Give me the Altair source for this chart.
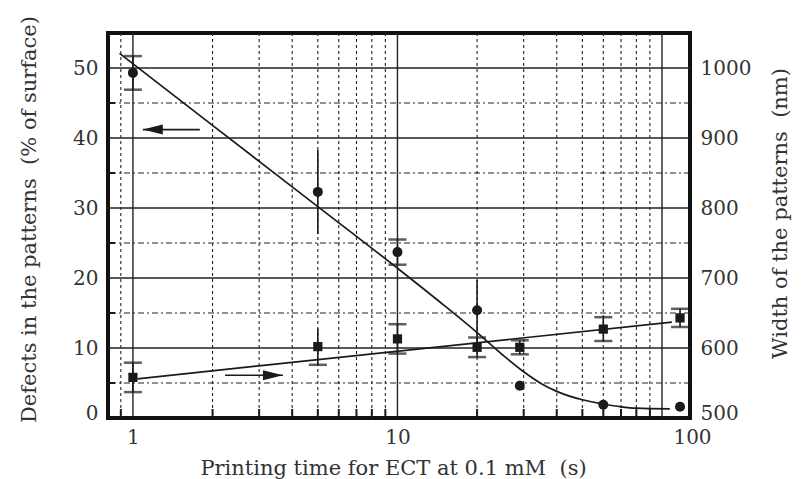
import altair as alt
import pandas as pd

# ---- data ----
time_pts = [1, 5, 10, 20, 29, 60, 117]
defects = [49.3, 32.3, 23.7, 15.4, 4.6, 1.9, 1.6]
defects_err = [2.4, 6.0, 1.8, 4.3, 0, 0, 0]
defects_caps = [1, 0, 1, 0, 0, 0, 0]

width_nm = [558, 602, 613, 601, 601, 627, 643]
width_err = [21, 26, 21, 14, 10, 17, 13]
width_topcap = [1, 0, 1, 1, 1, 1, 1]

fit_def_x = [0.89, 2, 5, 10, 15, 20, 25, 30, 35, 40, 50, 60, 70, 80, 107]
fit_def_y = [52.1, 41.8, 30.2, 21.4, 16.1, 12.2, 9.0, 6.6, 4.9, 3.8, 2.6, 2.0, 1.6, 1.4, 1.3]

fit_w_x = [1.04, 109]
fit_w_y = [556, 637]

arrow_left = {"x1": 1.09, "x2": 1.79, "y": 41.2}
arrow_right = {"x1": 2.23, "x2": 3.69, "y": 6.1}

major_x = [1, 10, 100]
minor_x = [0.9, 2, 3, 4, 5, 6, 7, 8, 9, 20, 30, 40, 50, 60, 70, 80, 90]
major_y = [10, 20, 30, 40, 50]
minor_y = [5, 15, 25, 35, 45]

x_ticks = [1, 10, 100]
left_ticks = [0, 10, 20, 30, 40, 50]
right_ticks = [500, 600, 700, 800, 900, 1000]

NB = "\u00a0"
x_title = "Printing time for ECT at 0.1 mM" + NB + NB + "(s)"
yl_title = "Defects in the patterns" + NB + NB + "(% of surface)"
yr_title = "Width of the patterns" + NB + NB + "(nm)"

# ---- settings ----
W, H = 582, 385
FONT = "DejaVu Serif"
XDOM = [0.805, 127.6]
xs = alt.Scale(type="log", domain=XDOM, nice=False)
yl = alt.Scale(domain=[0, 55], nice=False, zero=False)
yr = alt.Scale(domain=[500, 1050], nice=False, zero=False)
INK = "#1a1a1a"
TXT = "#333"
LABEL_SIZE = 20
TITLE_SIZE = 21

df_def = pd.DataFrame({"t": time_pts, "v": defects, "e": defects_err, "cap": defects_caps})
df_def["lo"] = df_def["v"] - df_def["e"]
df_def["hi"] = df_def["v"] + df_def["e"]
df_w = pd.DataFrame({"t": time_pts, "v": width_nm, "e": width_err, "topcap": width_topcap})
df_w["lo"] = df_w["v"] - df_w["e"]
df_w["hi"] = df_w["v"] + df_w["e"]
df_fit_def = pd.DataFrame({"t": fit_def_x, "v": fit_def_y})
df_fit_w = pd.DataFrame({"t": fit_w_x, "v": fit_w_y})
df_arrows = pd.DataFrame([
    {"t": arrow_left["x1"], "t2": arrow_left["x2"], "v": arrow_left["y"], "dir": "L"},
    {"t": arrow_right["x1"], "t2": arrow_right["x2"], "v": arrow_right["y"], "dir": "R"},
])

x_axis = alt.Axis(
    values=x_ticks, grid=False, ticks=False, domain=False, labelFlush=False,
    labelFontSize=LABEL_SIZE, labelColor=TXT, labelPadding=9, labelFont=FONT,
    labelOffset={"condition": {"test": "datum.value == 100", "value": 30}, "value": 0},
    title=x_title, titleFont=FONT, titleFontSize=TITLE_SIZE,
    titleFontWeight="normal", titleColor=TXT, titleX=285, titleY=56,
    titleAlign="center", titleBaseline="alphabetic",
)
yl_axis = alt.Axis(
    values=left_ticks, grid=False, ticks=False, domain=False, labelFlush=False,
    labelFontSize=LABEL_SIZE, labelColor=TXT, labelPadding=10, labelFont=FONT,
    labelOffset={"condition": {"test": "datum.value == 0", "value": -5}, "value": 0},
    title=yl_title, titleFont=FONT, titleFontSize=TITLE_SIZE,
    titleFontWeight="normal", titleColor=TXT, titleX=-79, titleY=186,
    titleAngle=270, titleAlign="center", titleBaseline="middle",
)
yr_axis = alt.Axis(
    orient="right", values=right_ticks, format="d", grid=False, ticks=False,
    domain=False, labelFlush=False,
    labelFontSize=LABEL_SIZE, labelColor=TXT, labelPadding=10, labelFont=FONT,
    labelOffset={"condition": {"test": "datum.value == 500", "value": -5}, "value": 0},
    title=yr_title, titleFont=FONT, titleFontSize=TITLE_SIZE,
    titleFontWeight="normal", titleColor=TXT, titleX=90, titleY=180,
    titleAngle=270, titleAlign="center", titleBaseline="middle",
)


def X(field="t"):
    return alt.X(f"{field}:Q", scale=xs, axis=x_axis)


def YL(field="v"):
    return alt.Y(f"{field}:Q", scale=yl, axis=yl_axis)


def YR(field="v"):
    return alt.Y(f"{field}:Q", scale=yr, axis=yr_axis)


# grid
g_minor_x = alt.Chart(pd.DataFrame({"t": minor_x})).mark_rule(
    color="#222", strokeWidth=1.1, strokeDash=[3, 3]).encode(x=X())
g_minor_y = alt.Chart(pd.DataFrame({"v": minor_y})).mark_rule(
    color="#222", strokeWidth=1.1, strokeDash=[6, 3, 2, 3]).encode(y=YL())
g_major_x = alt.Chart(pd.DataFrame({"t": major_x})).mark_rule(
    color="#222", strokeWidth=1.4).encode(x=X())
g_major_y = alt.Chart(pd.DataFrame({"v": major_y})).mark_rule(
    color="#222", strokeWidth=1.4).encode(y=YL())
b_ticks = alt.Chart(pd.DataFrame({"t": minor_x})).mark_rule(
    color=INK, strokeWidth=2).encode(x=X(), y=alt.value(H), y2=alt.value(H - 9))
l_ticks = alt.Chart(pd.DataFrame({"v": minor_y})).mark_rule(
    color=INK, strokeWidth=2).encode(y=YL(), x=alt.value(0), x2=alt.value(7))

fit_def = alt.Chart(df_fit_def).mark_line(
    color=INK, strokeWidth=1.7, interpolate="monotone").encode(x=X(), y=YL())
err_def = alt.Chart(df_def).transform_filter("datum.e > 0").mark_rule(
    color=INK, strokeWidth=1.6).encode(x=X(), y=YL("lo"), y2="hi:Q")
caps_def_hi = alt.Chart(df_def).transform_filter("datum.cap == 1").mark_tick(
    orient="horizontal", color=INK, size=18, thickness=2.5).encode(x=X(), y=YL("hi"))
caps_def_lo = alt.Chart(df_def).transform_filter("datum.cap == 1").mark_tick(
    orient="horizontal", color=INK, size=18, thickness=2.5).encode(x=X(), y=YL("lo"))
pts_def = alt.Chart(df_def).mark_point(
    shape="circle", filled=True, size=100, color=INK, opacity=1).encode(x=X(), y=YL())

arrow_shaft = alt.Chart(df_arrows).mark_rule(color=INK, strokeWidth=1.6).encode(
    x=X(), x2="t2:Q", y=YL())
head_l = alt.Chart(df_arrows).transform_filter("datum.dir == 'L'").mark_point(
    shape="M0,0L1,-0.25L1,0.25Z", filled=True, size=1600, color=INK, opacity=1).encode(
    x=X(), y=YL())
head_r = alt.Chart(df_arrows).transform_filter("datum.dir == 'R'").mark_point(
    shape="M0,0L-1,-0.25L-1,0.25Z", filled=True, size=1600, color=INK, opacity=1).encode(
    x=X("t2"), y=YL())

left = alt.layer(g_minor_x, g_minor_y, g_major_x, g_major_y, b_ticks, l_ticks,
                 fit_def, err_def, caps_def_hi, caps_def_lo, pts_def,
                 arrow_shaft, head_l, head_r)

# right axis layer
fit_w = alt.Chart(df_fit_w).mark_line(color=INK, strokeWidth=1.7).encode(x=X(), y=YR())
err_w = alt.Chart(df_w).mark_rule(color=INK, strokeWidth=1.6).encode(
    x=X(), y=YR("lo"), y2="hi:Q")
caps_w_hi = alt.Chart(df_w).transform_filter("datum.topcap == 1").mark_tick(
    orient="horizontal", color=INK, size=18, thickness=2.5).encode(x=X(), y=YR("hi"))
caps_w_lo = alt.Chart(df_w).mark_tick(
    orient="horizontal", color=INK, size=18, thickness=2.5).encode(x=X(), y=YR("lo"))
pts_w = alt.Chart(df_w).mark_point(
    shape="square", filled=True, size=85, color=INK, opacity=1).encode(x=X(), y=YR())

right = alt.layer(fit_w, err_w, caps_w_hi, caps_w_lo, pts_w)

chart = alt.layer(left, right).resolve_scale(y="independent").properties(
    width=W, height=H,
    autosize=alt.AutoSizeParams(type="none"),
    padding={"left": 108, "top": 33, "right": 803 - 108 - W, "bottom": 479 - 33 - H},
    background="white",
).configure_view(stroke="#111", strokeWidth=4)

chart.save("out.html", embed_options={"renderer": "svg", "actions": False})
